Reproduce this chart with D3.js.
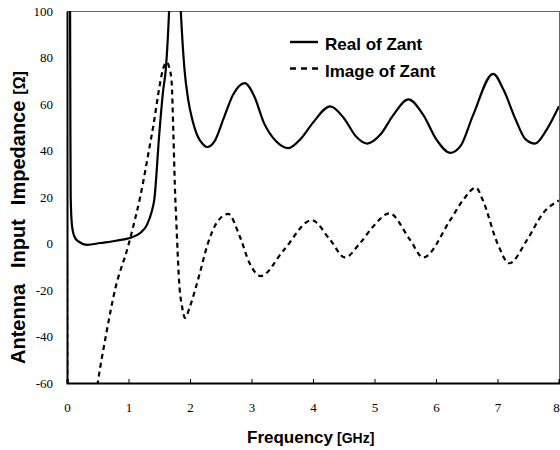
<!DOCTYPE html>
<html><head><meta charset="utf-8">
<script src="https://cdn.jsdelivr.net/npm/d3@7"></script>
<style>body{margin:0;background:#fff}svg{display:block}</style>
</head><body>
<svg id="c" width="560" height="450"></svg>
<script>
// Frequency [GHz] and impedance values
const realFreq = [0.0,0.03,0.05,0.055,0.06,0.08,0.12,0.18,0.33,0.54,0.8,1.02,1.19,1.3,1.38,1.42,1.5,1.56,1.61,1.66,1.72,1.8,1.85,1.91,1.97,2.04,2.11,2.2,2.28,2.4,2.55,2.7,2.89,3.05,3.2,3.4,3.6,3.8,4.0,4.28,4.5,4.7,4.88,5.1,5.3,5.55,5.8,6.0,6.23,6.4,6.6,6.93,7.1,7.3,7.45,7.61,7.8,8.0];
const realVal  = [200,150,100,50,20,8,3,1,-0.6,0.2,1.2,2.4,4.5,8,14,19,47,65,76,100,150,130,100,75,62,53,47,43,41.5,44,54,64,69,63,52,44,41,45,52,59,54,46,43,47,55,62,55,45,39,42,55,73,66,53,45,43,49,59];
const imagFreq = [0.0,0.005,0.02,0.2,0.4,0.5,0.63,0.78,1.0,1.05,1.19,1.38,1.59,1.62,1.66,1.7,1.73,1.76,1.77,1.83,1.87,1.92,2.0,2.16,2.29,2.43,2.62,2.81,2.97,3.15,3.52,3.98,4.28,4.52,4.76,5.0,5.24,5.58,5.79,6.23,6.44,6.65,6.76,7.0,7.19,7.48,7.74,8.0];
const imagVal  = [0,-60,-400,-150,-80,-60,-40,-20,-0.6,4.5,20,47,77,78,76,70,47,20,14,-19,-27,-32,-27,-12.7,0,8.7,12.7,3,-8.5,-14,-3,10,1.5,-6,0,8,13,1.5,-6,10,18.7,24,18.7,0,-8.5,1.5,13,18.5];
const xTicks = [0,1,2,3,4,5,6,7,8];
const yTicks = [-60,-40,-20,0,20,40,60,80,100];
const seriesNames = ["Real of Zant","Image of Zant"];
const yTitleWords = ["Antenna","Input","Impedance"];

const svg = d3.select("#c");
const L = 67, R = 559, T = 11, B = 383;
const x = d3.scaleLinear().domain([0,8]).range([L,R]);
const y = d3.scaleLinear().domain([-60,100]).range([B,T]);

svg.append("defs").append("clipPath").attr("id","clip")
  .append("rect").attr("x",L).attr("y",T).attr("width",R-L).attr("height",B-T);

// frame
svg.append("line").attr("x1",L).attr("x2",R).attr("y1",T+0.5).attr("y2",T+0.5).attr("stroke","#666").attr("stroke-width",1);
svg.append("line").attr("x1",R+0.5).attr("x2",R+0.5).attr("y1",T).attr("y2",B).attr("stroke","#666").attr("stroke-width",1);

// x axis
const xAxis = d3.axisBottom(x).tickValues(xTicks).tickSize(-4).tickPadding(20).tickFormat(d=>String(d));
const gx = svg.append("g").attr("transform",`translate(0,${B})`).call(xAxis);
gx.select(".domain").attr("stroke","#000").attr("stroke-width",2);
gx.selectAll(".tick line").attr("stroke","#000").attr("stroke-width",1);
gx.selectAll("text").attr("font-family","Liberation Serif").attr("font-size",13).attr("fill","#000");
gx.selectAll(".tick").filter(d=>d===8).select("text").attr("dx",-3);

// y axis
const yAxis = d3.axisLeft(y).tickValues(yTicks).tickSize(0).tickPadding(14).tickFormat(d=>String(d));
const gy = svg.append("g").attr("transform",`translate(${L},0)`).call(yAxis);
gy.select(".domain").attr("stroke","#000").attr("stroke-width",2);
gy.selectAll("text").attr("font-family","Liberation Serif").attr("font-size",13).attr("fill","#000");

const line = d3.line().x(d=>x(d[0])).y(d=>y(d[1])).curve(d3.curveMonotoneX);
const realData = realFreq.map((f,i)=>[f,realVal[i]]);
const imagData = imagFreq.map((f,i)=>[f,imagVal[i]]);

const plot = svg.append("g").attr("clip-path","url(#clip)");
plot.append("path").datum(imagData).attr("d",line).attr("fill","none")
  .attr("stroke","#000").attr("stroke-width",2.2).attr("stroke-dasharray","5,4");
plot.append("path").datum(realData).attr("d",line).attr("fill","none")
  .attr("stroke","#000").attr("stroke-width",2.2);

// legend
const lg = svg.append("g");
[0,1].forEach(i=>{
  const yy = 42 + i*26.5;
  lg.append("line").attr("x1",290).attr("x2",318).attr("y1",yy).attr("y2",yy)
    .attr("stroke","#000").attr("stroke-width",2.4).attr("stroke-dasharray", i===1 ? "6,5" : null);
  lg.append("text").attr("x",325).attr("y",50 + i*27).text(seriesNames[i])
    .attr("font-family","Liberation Sans").attr("font-weight","bold").attr("font-size",17).attr("fill","#000");
});

// axis titles
const xt = svg.append("text").attr("x",247).attr("y",443)
  .attr("font-family","Liberation Sans").attr("font-weight","bold").attr("font-size",17).attr("fill","#000");
xt.append("tspan").text("Frequency");
xt.append("tspan").attr("dx",4).attr("font-size",14).text("[GHz]");

const yt = svg.append("text").attr("transform",`translate(25,364) rotate(-90)`)
  .attr("font-family","Liberation Sans").attr("font-weight","bold").attr("font-size",20).attr("fill","#000");
yt.append("tspan").text(yTitleWords[0]);
yt.append("tspan").attr("dx",16).text(yTitleWords[1]);
yt.append("tspan").attr("dx",14).text(yTitleWords[2]);
yt.append("tspan").attr("dx",6).attr("font-size",16).text("[Ω]");
</script>
</body></html>
